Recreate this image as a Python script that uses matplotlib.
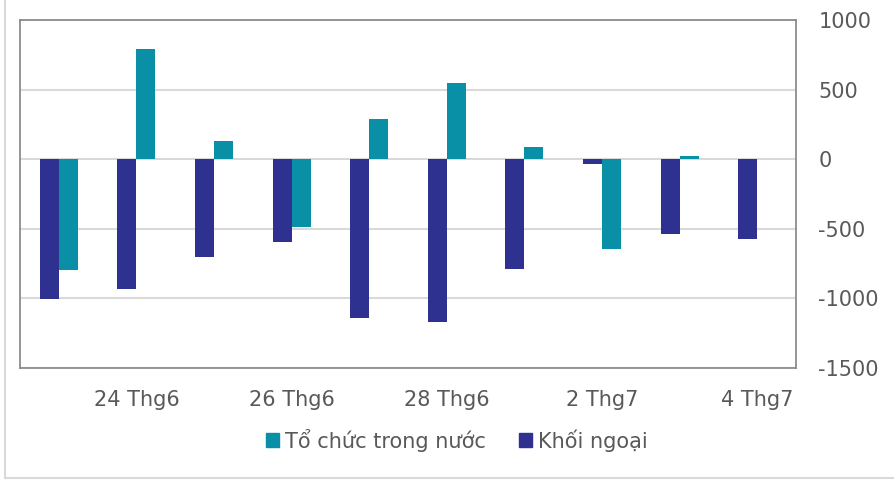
import numpy as np
import matplotlib
matplotlib.use("Agg")
import matplotlib.pyplot as plt
from matplotlib.lines import Line2D

# Giao dịch ròng (tỷ đồng) theo phiên
dates = ["21 Thg6", "24 Thg6", "25 Thg6", "26 Thg6", "27 Thg6",
         "28 Thg6", "1 Thg7", "2 Thg7", "3 Thg7", "4 Thg7"]
khoi_ngoai = [-1003, -929, -701, -596, -1139, -1168, -787, -33, -534, -572]
to_chuc = [-797, 795, 134, -487, 290, 549, 89, -644, 20, 0]

blue = "#2e3190"
teal = "#0a90a6"
text_color = "#595959"

plt.rcParams['font.family'] = ['DejaVu Sans']
plt.rcParams['axes.unicode_minus'] = False

fig = plt.figure(figsize=(8.95, 4.82), dpi=100)
ax = fig.add_axes([20 / 895, 1 - 368 / 482, 776 / 895, 348 / 482])

x = np.arange(len(dates))
w = 0.245
ax.bar(x - w / 2, khoi_ngoai, width=w, color=blue, label="Khối ngoại", zorder=3)
ax.bar(x + w / 2, to_chuc, width=w, color=teal, label="Tổ chức trong nước", zorder=3)

ax.set_xlim(-0.5, len(dates) - 0.5)
ax.set_ylim(-1500, 1000)
ax.set_yticks([-1500, -1000, -500, 0, 500, 1000])
ax.yaxis.tick_right()
ax.grid(axis="y", color="#d9d9d9", linewidth=1.5, zorder=0)

ax.set_xticks(x[1::2])
ax.set_xticklabels(dates[1::2])
ax.tick_params(axis="both", length=0, labelsize=15, labelcolor=text_color)
ax.tick_params(axis="y", pad=16)
ax.tick_params(axis="x", pad=16)

for s in ax.spines.values():
    s.set_color("#8c8c8c")
    s.set_linewidth(1.3)

handles = [plt.Rectangle((0, 0), 1, 1, color=teal),
           plt.Rectangle((0, 0), 1, 1, color=blue)]
fig.legend(handles, ["Tổ chức trong nước", "Khối ngoại"], loc="center",
           bbox_to_anchor=(457 / 895, 1 - 440 / 482), ncol=2, frameon=False,
           fontsize=15, labelcolor=text_color, handlelength=0.62, handleheight=0.62,
           handletextpad=0.3, columnspacing=1.6)

# khung ngoài của biểu đồ
fig.add_artist(Line2D([5 / 895, 5 / 895], [1, 1 - 478 / 482], transform=fig.transFigure,
                      color="#d9d9d9", linewidth=1.5))
fig.add_artist(Line2D([5 / 895, 1], [1 - 478 / 482, 1 - 478 / 482], transform=fig.transFigure,
                      color="#d9d9d9", linewidth=1.5))

fig.savefig("out.png", dpi=100)
